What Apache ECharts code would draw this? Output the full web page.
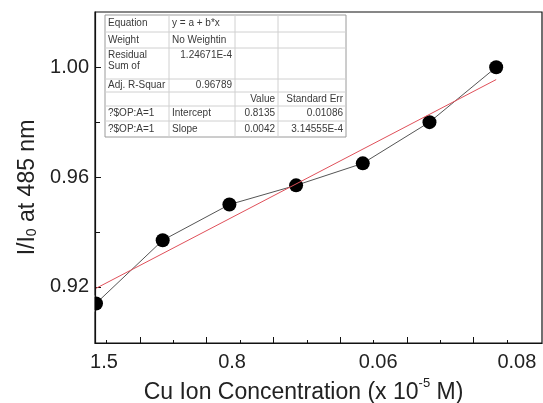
<!DOCTYPE html>
<html><head><meta charset="utf-8">
<script src="https://cdn.jsdelivr.net/npm/echarts@6/dist/echarts.min.js"></script>
<style>html,body{margin:0;padding:0;background:#fff}#c{width:543px;height:403px}</style>
</head><body><div id="c"></div>
<script>
// ---- data ----
const xIndex = [0, 1, 2, 3, 4, 5, 6];
const yValues = [0.914, 0.937, 0.950, 0.957, 0.965, 0.980, 1.000];
const fitX = [0, 6];
const fitY = [0.9195, 0.9955];
const xTickLabels = ['1.5', '0.8', '0.06', '0.08'];
const xTickLabelAt = [0.12, 2.04, 4.23, 6.31];
const xMajorTicks = [0.66, 1.66, 2.66, 3.66, 4.66, 5.66];
const xMinorTicks = [0.16, 1.16, 2.16, 3.16, 4.16, 5.16, 6.16];
const yTickLabels = [0.92, 0.96, 1.00];
const yMinorTicks = [0.94, 0.98];
const tableRows = [
  ['Equation', 'y = a + b*x', '', ''],
  ['Weight', 'No Weightin', '', ''],
  ['Residual\nSum of', '1.24671E-4', '', ''],
  ['Adj. R-Squar', '0.96789', '', ''],
  ['', '', 'Value', 'Standard Err'],
  ['?$OP:A=1', 'Intercept', '0.8135', '0.01086'],
  ['?$OP:A=1', 'Slope', '0.0042', '3.14555E-4']
];

// ---- layout ----
const FONT = '"Liberation Sans", Arial, sans-serif';
const X_MIN = -0.015, X_MAX = 6.687;
const Y_MIN = 0.8996, Y_MAX = 1.0201;
const GRID_LEFT = 95;
const colX = [105, 169, 235, 278, 346];
const rowY = [15, 32, 48, 79, 92, 106, 121, 137];

function buildTable() {
  const els = [];
  const L = colX[0], R = colX[colX.length - 1], T = rowY[0], B = rowY[rowY.length - 1];
  els.push({type: 'rect', shape: {x: L, y: T, width: R - L, height: B - T},
    style: {fill: '#fff', stroke: '#9a9a9a', lineWidth: 1}, z: 100});
  for (let i = 1; i < colX.length - 1; i++) {
    els.push({type: 'line', shape: {x1: colX[i], y1: T, x2: colX[i], y2: B},
      style: {stroke: '#d0d0d0', lineWidth: 1}, z: 101});
  }
  for (let j = 1; j < rowY.length - 1; j++) {
    els.push({type: 'line', shape: {x1: L, y1: rowY[j], x2: R, y2: rowY[j]},
      style: {stroke: '#d0d0d0', lineWidth: 1}, z: 101});
  }
  tableRows.forEach((row, r) => {
    row.forEach((txt, c) => {
      if (!txt) return;
      const isNum = /^[0-9.]/.test(txt) || txt === 'Value' || txt === 'Standard Err';
      const multi = txt.indexOf('\n') >= 0 || r === 2;
      const align = (c >= 1 && isNum) ? 'right' : 'left';
      const x = align === 'right' ? colX[c + 1] - 3 : colX[c] + 3;
      const y = multi ? rowY[r] + 2 : (rowY[r] + rowY[r + 1]) / 2;
      els.push({type: 'text', x: x, y: y, z: 102,
        style: {text: txt, fill: '#3a3a3a', font: '10px ' + FONT, align: align,
          verticalAlign: multi ? 'top' : 'middle', lineHeight: 11}});
    });
  });
  return els;
}

const chart = echarts.init(document.getElementById('c'), null, {renderer: 'canvas'});
chart.setOption({
  animation: false,
  backgroundColor: '#fff',
  grid: {left: GRID_LEFT, right: 1, top: 12, bottom: 60, show: true, borderColor: '#111', borderWidth: 1.2,
    containLabel: false, outerBoundsMode: 'none'},
  xAxis: [{
    type: 'value', min: X_MIN, max: X_MAX, position: 'bottom',
    axisLine: {show: true, onZero: false, lineStyle: {color: '#111', width: 1.2}},
    splitLine: {show: false},
    axisTick: {show: true, inside: true, length: 6, customValues: xMajorTicks, lineStyle: {color: '#111'}},
    axisLabel: {show: true, customValues: xTickLabelAt, margin: 9, color: '#222', fontSize: 20, fontFamily: FONT,
      formatter: v => { let k = 0; xTickLabelAt.forEach((p, i) => { if (Math.abs(p - v) < Math.abs(xTickLabelAt[k] - v)) k = i; }); return xTickLabels[k]; }},
    name: '{a|Cu Ion Concentration (x 10}{b|-5}{a| M)}',
    nameLocation: 'middle', nameGap: 31,
    nameTextStyle: {padding: [0, 30, 0, 0], rich: {
      a: {fontSize: 23, fontFamily: FONT, color: '#222', verticalAlign: 'bottom', lineHeight: 27},
      b: {fontSize: 13, fontFamily: FONT, color: '#222', verticalAlign: 'top', padding: [0, 0, 13, 0]}
    }}
  }, {
    type: 'value', min: X_MIN, max: X_MAX, position: 'bottom',
    axisLine: {show: false}, splitLine: {show: false}, axisLabel: {show: false},
    axisTick: {show: true, inside: true, length: 3, customValues: xMinorTicks, lineStyle: {color: '#111'}}
  }],
  yAxis: [{
    type: 'value', min: Y_MIN, max: Y_MAX, position: 'left',
    axisLine: {show: true, onZero: false, lineStyle: {color: '#111', width: 1.2}},
    splitLine: {show: false},
    axisTick: {show: true, inside: true, length: 6, customValues: yTickLabels, lineStyle: {color: '#111'}},
    axisLabel: {show: true, customValues: yTickLabels, margin: 6, color: '#222', fontSize: 20, fontFamily: FONT,
      formatter: v => v.toFixed(2)},
    name: '{a|I/I}{b|0}{a| at 485 nm}',
    nameLocation: 'middle', nameGap: 55, nameRotate: 90,
    nameTextStyle: {padding: [0, 20, 0, 0], rich: {
      a: {fontSize: 23, fontFamily: FONT, color: '#222', verticalAlign: 'bottom', lineHeight: 27},
      b: {fontSize: 14, fontFamily: FONT, color: '#222', verticalAlign: 'bottom', padding: [11, 0, 0, 0]}
    }}
  }, {
    type: 'value', min: Y_MIN, max: Y_MAX, position: 'left',
    axisLine: {show: false}, splitLine: {show: false}, axisLabel: {show: false},
    axisTick: {show: true, inside: true, length: 4, customValues: yMinorTicks, lineStyle: {color: '#111'}}
  }],
  series: [{
    type: 'line', xAxisIndex: 0, yAxisIndex: 0,
    data: xIndex.map((x, i) => [x, yValues[i]]),
    symbol: 'circle', symbolSize: 14, itemStyle: {color: '#000'},
    lineStyle: {color: '#555', width: 1}, z: 2
  }, {
    type: 'line', xAxisIndex: 0, yAxisIndex: 0,
    data: fitX.map((x, i) => [x, fitY[i]]),
    symbol: 'none', lineStyle: {color: '#e0505a', width: 1}, z: 3
  }],
  graphic: buildTable()
});

// hide the part of the first marker that falls outside the plot area (as in the reference)
const p0 = chart.convertToPixel({xAxisIndex: 0, yAxisIndex: 0}, [xIndex[0], yValues[0]]);
chart.setOption({graphic: buildTable().concat([{
  type: 'rect', shape: {x: GRID_LEFT - 12, y: p0[1] - 8, width: 11.4, height: 16},
  style: {fill: '#fff'}, z: 50, silent: true
}])});
</script>
</body></html>
